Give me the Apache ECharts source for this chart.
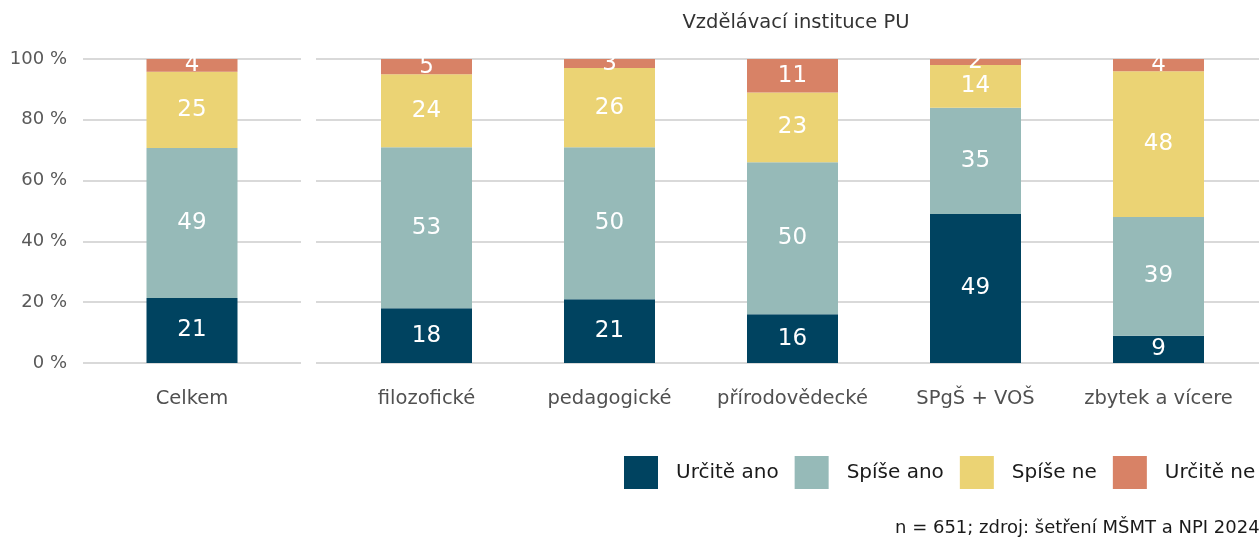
<!DOCTYPE html>
<html><head><meta charset="utf-8">
<script src="https://cdn.jsdelivr.net/npm/echarts@6/dist/echarts.min.js"></script>
<style>html,body{margin:0;padding:0;background:#fff}#c{width:1259px;height:538px}</style>
</head><body><div id="c"></div>
<script>
const seriesNames = ['Určitě ano', 'Spíše ano', 'Spíše ne', 'Určitě ne'];
const colors = ['#004360', '#96BAB8', '#EBD374', '#D88266'];
const totalCategory = ['Celkem'];
const totalValues = [[21.4], [49.3], [25.1], [4.2]];
const instCategories = ['filozofické', 'pedagogické', 'přírodovědecké', 'SPgŠ + VOŠ', 'zbytek a vícere'];
const urciteAno = [18, 21, 16, 49, 9];
const spiseAno = [53, 50, 50, 35, 39];
const spiseNe = [24, 26, 23, 14, 48];
const urciteNe = [5, 3, 11, 2, 4];
const instValues = [urciteAno, spiseAno, spiseNe, urciteNe];
const yTicks = [0, 20, 40, 60, 80, 100];
const panelTitle = 'Vzdělávací instituce PU';
const footnote = 'n = 651; zdroj: šetření MŠMT a NPI 2024';

const FONT = 'DejaVu Sans';
const chart = echarts.init(document.getElementById('c'));
const yAxisBase = (show) => ({
  type: 'value', min: yTicks[0], max: yTicks[yTicks.length - 1], interval: 20,
  axisLine: {show: false}, axisTick: {show: false},
  splitLine: {show: show, lineStyle: {color: '#d9d9d9', width: 2}},
  axisLabel: {show: false}
});
const labelStyle = {show: true, position: 'inside', color: '#fff', fontSize: 23, fontFamily: FONT,
  formatter: p => Math.round(p.value)};
const series = [];
seriesNames.forEach((n, i) => {
  series.push({name: n, type: 'bar', stack: 'a', xAxisIndex: 0, yAxisIndex: 0, barWidth: 91,
    data: totalValues[i], itemStyle: {color: colors[i]}, label: labelStyle});
});
seriesNames.forEach((n, i) => {
  series.push({name: n, type: 'bar', stack: 'b', xAxisIndex: 1, yAxisIndex: 1, barWidth: 91,
    data: instValues[i], itemStyle: {color: colors[i]}, label: labelStyle});
});
const catAxis = (data, gi) => ({
  type: 'category', gridIndex: gi, data: data,
  axisLine: {show: false}, axisTick: {show: false},
  axisLabel: {interval: 0, color: '#505050', fontSize: 19.5, fontFamily: FONT, margin: 26}
});
chart.setOption({
  animation: false,
  textStyle: {fontFamily: FONT},
  title: {text: panelTitle, left: 791, top: 8, textAlign: 'center',
    textStyle: {fontSize: 19.5, fontWeight: 'normal', color: '#333', fontFamily: FONT}},
  legend: {data: seriesNames, left: 624, top: 456, icon: 'rect', itemWidth: 34, itemHeight: 33,
    itemGap: 16, padding: 0, textStyle: {fontSize: 20, color: '#1a1a1a', fontFamily: FONT, padding: [0, 0, 0, 13]}},
  grid: [
    {left: 83, width: 218, top: 59, bottom: 175},
    {left: 335, right: 9, top: 59, bottom: 175},
    {left: 316, right: 0, top: 59, bottom: 175}
  ],
  xAxis: [catAxis(totalCategory, 0), catAxis(instCategories, 1),
    {type: 'category', gridIndex: 2, data: ['x'], show: false}],
  yAxis: [
    Object.assign(yAxisBase(true), {gridIndex: 0, axisLabel: {show: true, color: '#595959', fontSize: 18,
      fontFamily: FONT, margin: 16, formatter: v => v + ' %'}}),
    Object.assign(yAxisBase(false), {gridIndex: 1}),
    Object.assign(yAxisBase(true), {gridIndex: 2})
  ],
  graphic: [{type: 'text', left: 895, top: 519, silent: true,
    style: {text: footnote, fontSize: 18, fill: '#1a1a1a', fontFamily: FONT}}],
  series: series
});
</script></body></html>
